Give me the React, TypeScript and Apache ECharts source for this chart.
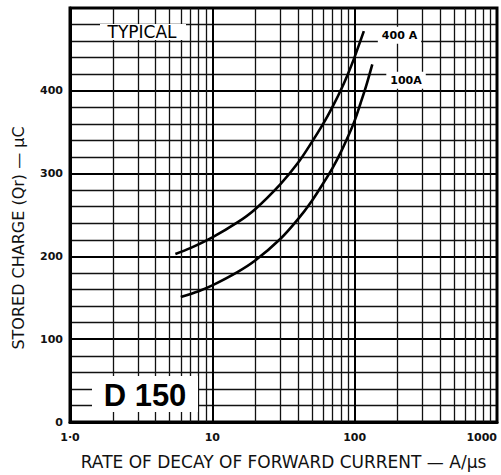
import React, { useEffect, useRef } from 'react';
import * as echarts from 'echarts';

// Stored charge (µC) vs rate of decay of forward current (A/µs)
const rate400: number[] = [5.5, 7, 10, 15, 20, 30, 40, 50, 60, 70, 80, 90, 100, 116];
const charge400: number[] = [203, 210, 223, 241, 257, 287, 313, 338, 360, 381, 401, 421, 441, 472];
const rate100: number[] = [6, 8, 10, 15, 20, 30, 40, 50, 60, 70, 80, 90, 100, 110, 120, 133];
const charge100: number[] = [151, 158, 165, 181, 195, 221, 245, 267, 288, 307, 326, 345, 364, 385, 405, 432];
const curveNames: string[] = ['400 A', '100A'];

const xMin = 1;
const xMax = 1000;
const xTickLabels: Record<number, string> = { 1: '1·0', 10: '10', 100: '100', 1000: '1000' };
const yMin = 0;
const yMax = 500;
const yInterval = 100;
const yShownLabels: number[] = [0, 100, 200, 300, 400];
const minorXLines: number[] = [
  2, 3, 4, 5, 6, 7, 8, 9,
  20, 30, 40, 50, 60, 70, 80, 90,
  200, 300, 400, 500, 600, 700, 800, 900,
];

const TITLE_FONT = '"DejaVu Sans", sans-serif';

export default function App() {
  const ref = useRef<HTMLDivElement>(null);

  useEffect(() => {
    if (!ref.current) return;
    const chart = echarts.init(ref.current, undefined, { renderer: 'svg' });
    const zip = (xs: number[], ys: number[]) => xs.map((x, i) => [x, ys[i]]);

    const curveStyle = (name: string, offset: number[]) => ({
      type: 'line',
      name,
      smooth: 0.3,
      showSymbol: false,
      symbol: 'none',
      lineStyle: { color: '#000', width: 2.6 },
      z: 5,
      endLabel: {
        show: true,
        formatter: name,
        color: '#000',
        fontFamily: TITLE_FONT,
        fontSize: 11,
        fontWeight: 'bold',
        backgroundColor: '#fff',
        padding: [3, 4, 3, 4],
        offset,
      },
    });

    chart.setOption({
      animation: false,
      backgroundColor: '#fff',
      grid: {
        left: 70,
        top: 8,
        right: 4,
        bottom: 53,
        show: true,
        borderColor: '#000',
        borderWidth: 3,
        backgroundColor: '#fff',
      },
      xAxis: {
        type: 'log',
        logBase: 10,
        min: xMin,
        max: xMax,
        name: 'RATE OF DECAY OF FORWARD CURRENT — A/µs',
        nameLocation: 'middle',
        nameGap: 31,
        nameTextStyle: { fontFamily: TITLE_FONT, fontSize: 17, color: '#111' },
        axisLine: { show: true, lineStyle: { color: '#000', width: 3 } },
        axisTick: { show: false },
        axisLabel: {
          margin: 10,
          fontFamily: TITLE_FONT,
          fontSize: 11,
          fontWeight: 'bold',
          color: '#111',
          alignMaxLabel: 'right',
          formatter: (v: number) => xTickLabels[Math.round(v)] ?? '',
        },
        splitLine: { show: true, lineStyle: { color: '#000', width: 2 } },
      },
      yAxis: {
        type: 'value',
        min: yMin,
        max: yMax,
        interval: yInterval,
        axisLine: { show: true, lineStyle: { color: '#000', width: 3 } },
        axisTick: { show: false },
        axisLabel: {
          margin: 7,
          fontFamily: TITLE_FONT,
          fontSize: 11,
          fontWeight: 'bold',
          color: '#111',
          formatter: (v: number) => (yShownLabels.includes(v) ? String(v) : ''),
        },
        splitLine: { show: true, lineStyle: { color: '#000', width: 2 } },
        minorTick: { show: false, splitNumber: 5 },
        minorSplitLine: { show: true, lineStyle: { color: '#111', width: 1.3 } },
      },
      series: [
        {
          type: 'line',
          name: 'grid',
          data: [],
          silent: true,
          z: 1,
          markLine: {
            silent: true,
            symbol: ['none', 'none'],
            label: { show: false },
            lineStyle: { color: '#111', width: 1.3, type: 'solid' },
            data: minorXLines.map((v) => ({ xAxis: v })),
          },
        },
        { ...curveStyle(curveNames[0], [6, 4]), data: zip(rate400, charge400) },
        { ...curveStyle(curveNames[1], [6, 16]), data: zip(rate100, charge100) },
      ],
      graphic: [
        {
          type: 'rect',
          z: 50,
          shape: { x: 100, y: 24, width: 86, height: 16 },
          style: { fill: '#fff' },
        },
        {
          type: 'text',
          z: 51,
          x: 142,
          y: 32,
          style: {
            text: 'TYPICAL',
            fontFamily: TITLE_FONT,
            fontSize: 17,
            fill: '#000',
            align: 'center',
            verticalAlign: 'middle',
          },
        },
        {
          type: 'rect',
          z: 50,
          shape: { x: 92, y: 376, width: 106, height: 36 },
          style: { fill: '#fff' },
        },
        {
          type: 'text',
          z: 51,
          x: 145,
          y: 395,
          style: {
            text: 'D 150',
            fontFamily: '"Liberation Sans", Arial, sans-serif',
            fontWeight: 'bold',
            fontSize: 31,
            fill: '#000',
            align: 'center',
            verticalAlign: 'middle',
          },
        },
        {
          type: 'text',
          z: 51,
          x: 18,
          y: 238,
          rotation: Math.PI / 2,
          style: {
            text: 'STORED CHARGE (Qr) — µC',
            fontFamily: TITLE_FONT,
            fontSize: 16,
            fill: '#111',
            align: 'center',
            verticalAlign: 'middle',
          },
        },
      ],
    });
    return () => chart.dispose();
  }, []);

  return (
    <div
      ref={ref}
      style={{ position: 'absolute', left: 0, top: 0, width: 501, height: 475 }}
    />
  );
}
